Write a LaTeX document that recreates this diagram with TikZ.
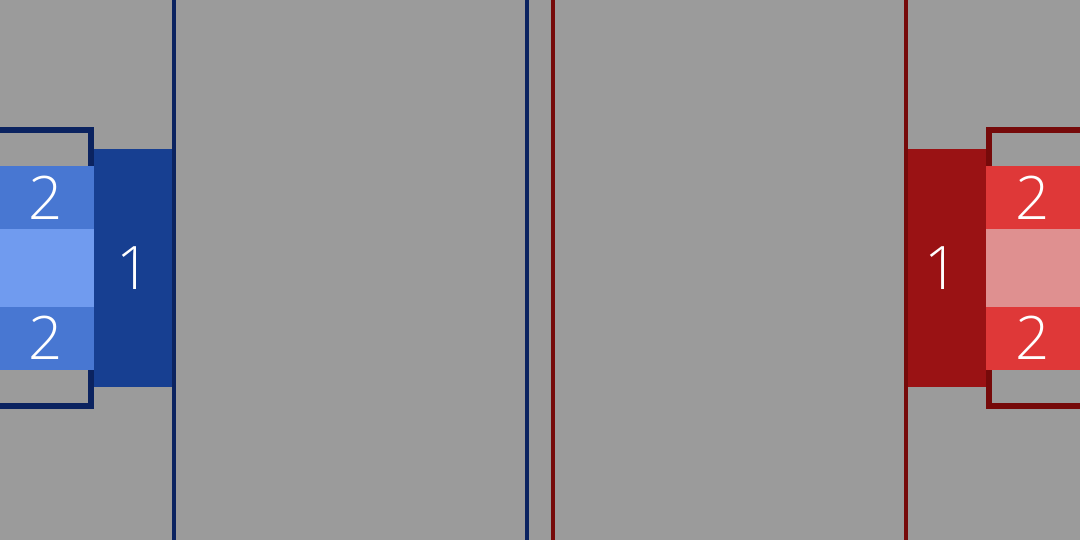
\documentclass[tikz,border=0pt]{standalone}
\usepackage{fontspec}
\setmainfont{Open Sans Light}
\definecolor{bg}{HTML}{9B9B9B}
\definecolor{navy}{HTML}{0B2360}
\definecolor{bluedark}{HTML}{173F91}
\definecolor{bluemid}{HTML}{4877D2}
\definecolor{bluelight}{HTML}{709BEF}
\definecolor{maroon}{HTML}{760A0A}
\definecolor{reddark}{HTML}{9A1214}
\definecolor{redmid}{HTML}{DF3838}
\definecolor{redlight}{HTML}{DF9090}
\begin{document}
\begin{tikzpicture}[x=1pt,y=-1pt,
  lbl/.style={text=white,font=\fontsize{60}{60}\selectfont,inner sep=0pt}]
\useasboundingbox (0,0) rectangle (1080,540);
\fill[bg] (0,0) rectangle (1080,540);
% blue side
\draw[navy,line width=5.5] (-10,130) rectangle (91,406);
\fill[bluemid] (0,166) rectangle (94,229);
\fill[bluelight] (0,229) rectangle (94,307);
\fill[bluemid] (0,307) rectangle (94,370);
\fill[bluedark] (94,149) rectangle (174,387);
\node[lbl] (b2a) at (46,198) {2};
\node[lbl] (b2b) at (46,338) {2};
\node[lbl] (b1) at (134,268) {1};
\draw[navy,line width=3.5] (174,0) -- (174,540);
\draw[navy,line width=3.5] (527,0) -- (527,540);
% red side
\draw[maroon,line width=3.5] (553,0) -- (553,540);
\draw[maroon,line width=3.5] (906,0) -- (906,540);
\draw[maroon,line width=5.5] (989,130) rectangle (1090,406);
\fill[redmid] (986,166) rectangle (1080,229);
\fill[redlight] (986,229) rectangle (1080,307);
\fill[redmid] (986,307) rectangle (1080,370);
\fill[reddark] (908,149) rectangle (986,387);
\node[lbl] (r2a) at (1033,198) {2};
\node[lbl] (r2b) at (1033,338) {2};
\node[lbl] (r1) at (942,268) {1};
\end{tikzpicture}
\end{document}
